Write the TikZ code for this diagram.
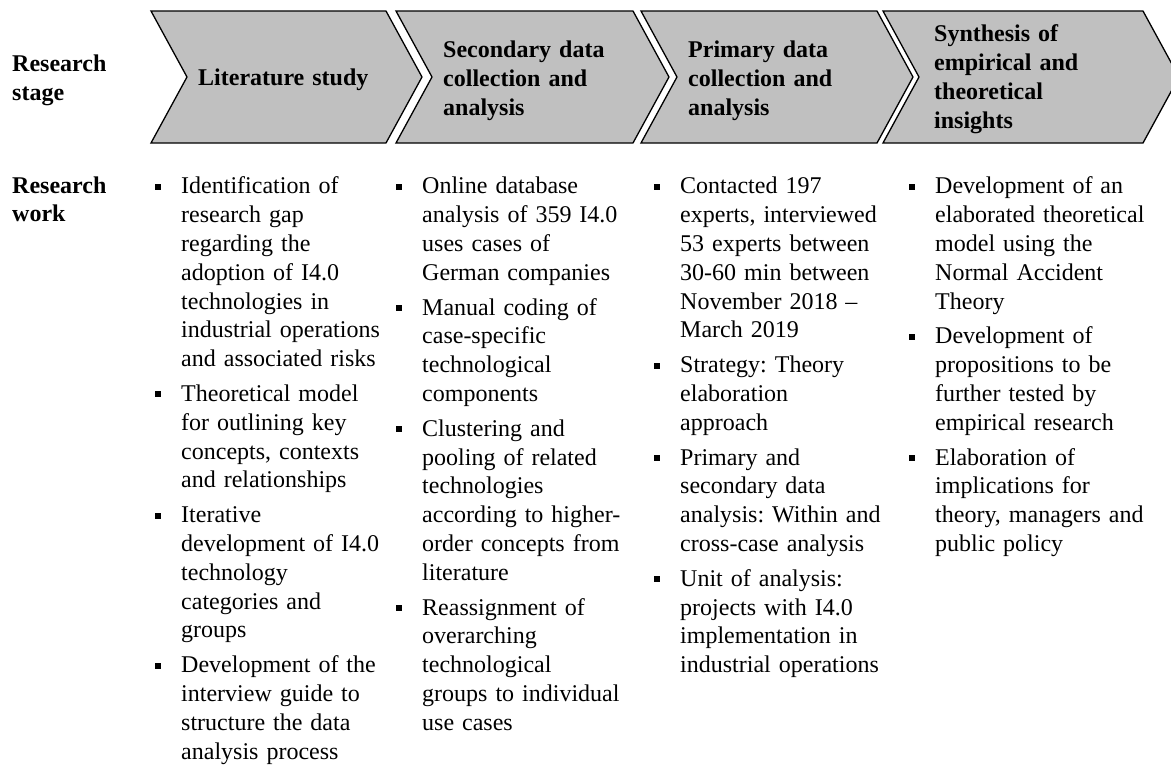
\documentclass[tikz,border=0pt]{standalone}
\usepackage{fontspec}
\setmainfont{Liberation Serif}
\definecolor{stagegray}{RGB}{192,192,192}
\frenchspacing

% bullet list used for the research-work columns
\newenvironment{worksteps}{%
  \begin{list}{\rule[4pt]{6pt}{6pt}}{%
    \setlength{\leftmargin}{26pt}%
    \setlength{\labelwidth}{6pt}%
    \setlength{\labelsep}{20pt}%
    \setlength{\itemindent}{0pt}%
    \setlength{\listparindent}{0pt}%
    \setlength{\itemsep}{6pt}%
    \setlength{\parsep}{0pt}%
    \setlength{\topsep}{0pt}%
    \setlength{\partopsep}{0pt}}%
  \raggedright}{\end{list}}

\begin{document}
\begin{tikzpicture}[x=1pt,y=-1pt,
  stagebox/.style={draw=black, line width=1.3pt, fill=stagegray, line join=miter},
  stagetext/.style={anchor=west, align=left, inner sep=0pt, text width=200pt,
    font=\bfseries\fontsize{24pt}{28.8pt}\selectfont},
  rowhead/.style={align=left, inner sep=0pt, text width=130pt,
    font=\bfseries\fontsize{24pt}{28.8pt}\selectfont},
  worklist/.style={anchor=base west, inner sep=0pt, text width=260pt,
    font=\fontsize{24pt}{28.8pt}\selectfont}
]
\useasboundingbox (0,0) rectangle (1171,769);
\clip (0,0) rectangle (1171,769);

% chevrons of the research stages
\foreach \xa/\xb [count=\i] in {151/386, 396/633, 641/877, 883/1143}{
  \draw[stagebox] (\xa,11) -- (\xb,11) -- (\xb+36,77) -- (\xb,143)
    -- (\xa,143) -- (\xa+36,77) -- cycle;
}

% row headings
\node[rowhead, anchor=west] (stagehead) at (12,80) {Research\\stage};
\node[rowhead, anchor=base west] (workhead) at (12,193) {Research\\work};

% stage labels
\node[stagetext] (stage1) at (198,80) {Literature study};
\node[stagetext] (stage2) at (443,81) {Secondary data\\collection and\\analysis};
\node[stagetext] (stage3) at (688,81) {Primary data\\collection and\\analysis};
\node[stagetext] (stage4) at (934,79) {Synthesis of\\empirical and\\theoretical\\insights};

% research work per stage
\node[worklist] (work1) at (155,165) {%
\begin{worksteps}
\item Identification of\\research gap\\regarding the\\adoption of I4.0\\technologies in\\industrial operations\\and associated risks
\item Theoretical model\\for outlining key\\concepts, contexts\\and relationships
\item Iterative\\development of I4.0\\technology\\categories and\\groups
\item Development of the\\interview guide to\\structure the data\\analysis process
\end{worksteps}};

\node[worklist] (work2) at (396,165) {%
\begin{worksteps}
\item Online database\\analysis of 359 I4.0\\uses cases of\\German companies
\item Manual coding of\\case-specific\\technological\\components
\item Clustering and\\pooling of related\\technologies\\according to higher-\\order concepts from\\literature
\item Reassignment of\\overarching\\technological\\groups to individual\\use cases
\end{worksteps}};

\node[worklist] (work3) at (654,165) {%
\begin{worksteps}
\item Contacted 197\\experts, interviewed\\53 experts between\\30-60 min between\\November 2018 --\\March 2019
\item Strategy: Theory\\elaboration\\approach
\item Primary and\\secondary data\\analysis: Within and\\cross-case analysis
\item Unit of analysis:\\projects with I4.0\\implementation in\\industrial operations
\end{worksteps}};

\node[worklist] (work4) at (909,165) {%
\begin{worksteps}
\item Development of an\\elaborated theoretical\\model using the\\Normal Accident\\Theory
\item Development of\\propositions to be\\further tested by\\empirical research
\item Elaboration of\\implications for\\theory, managers and\\public policy
\end{worksteps}};
\end{tikzpicture}
\end{document}
